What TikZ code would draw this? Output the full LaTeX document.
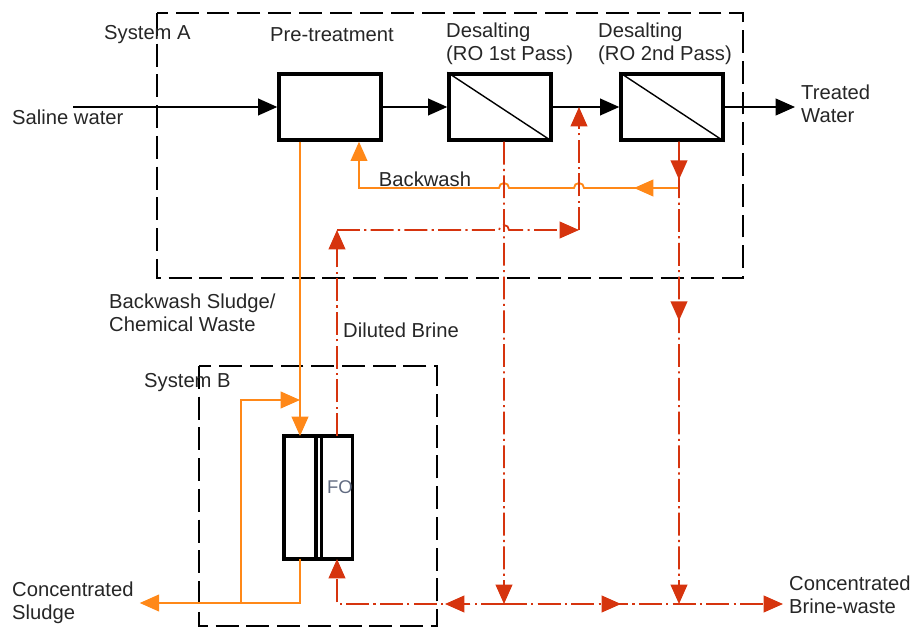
\documentclass[tikz,border=0pt]{standalone}
\usepackage{fontspec}
\setmainfont{Liberation Sans}
\usetikzlibrary{arrows.meta}
\definecolor{washorange}{RGB}{255,136,24}
\definecolor{brinered}{RGB}{214,52,14}
\definecolor{fogray}{RGB}{96,106,128}

\begin{document}
\begin{tikzpicture}[x=0.02cm, y=-0.02cm,
	every node/.style={font=\fontsize{11.5}{13.3}\selectfont, text=black!85},
	unit/.style={draw, line width=1.9pt, inner sep=0pt, minimum width=2.04cm, minimum height=1.32cm},
	fopart/.style={draw, line width=1.8pt, inner sep=0pt, outer sep=0pt, minimum height=2.46cm},
	sysbox/.style={line width=1.7pt, dash pattern=on 13pt off 4.5pt},
	flow/.style={line width=1.1pt, -{Triangle[length=11pt,width=9.5pt]}},
	wash/.style={washorange, line width=1.05pt, -{Triangle[length=11pt,width=9.5pt]}},
	brine/.style={brinered, line width=1pt, dash pattern=on 13pt off 2.5pt on 1.2pt off 2.5pt, -{Triangle[length=11pt,width=9.5pt]}}]
	\useasboundingbox (0,0) rectangle (917,628);
	\draw[sysbox] (157,13) rectangle (743,278);
	\draw[sysbox] (199,366) rectangle (437,626);
	\node[anchor=west] (sysA) at (98,35) {System A};
	\node[anchor=west] (sysB) at (138,383) {System B};

	\node[unit] (pre) at (330,107) {};
	\node[unit] (ro1) at (500,107) {};
	\node[unit] (ro2) at (672,107) {};
	\draw[line width=0.8pt] (ro1.north west) -- (ro1.south east);
	\draw[line width=0.8pt] (ro2.north west) -- (ro2.south east);
	\node (prelbl) at (332,35) {Pre-treatment};
	\node[anchor=west, align=left] (ro1lbl) at (440,44) {Desalting\\(RO 1st Pass)};
	\node[anchor=west, align=left] (ro2lbl) at (592,44) {Desalting\\(RO 2nd Pass)};

	\node[fopart, minimum width=0.64cm] (foleft) at (300,497.5) {};
	\node[fopart, minimum width=0.62cm] (foright) at (337,497.5) {};
	\draw[line width=1.8pt] (foleft.north east) -- (foright.north west);
	\draw[line width=1.8pt] (foleft.south east) -- (foright.south west);
	\node[text=fogray, font=\fontsize{10.5}{12}\selectfont] (folbl) at (340,487) {FO};

	\node[anchor=west] (saline) at (6,117) {Saline water};
	\node[anchor=west, align=left] (treated) at (795,104) {Treated\\Water};
	\node (bwlbl) at (425,179) {Backwash};
	\node[anchor=west, align=left] (sludgelbl) at (103,313) {Backwash Sludge/\\Chemical Waste};
	\node[anchor=west] (dillbl) at (337,330) {Diluted Brine};
	\node[anchor=west, align=left] (sludge) at (6,603) {Concentrated\\Sludge};
	\node[anchor=west, align=left] (waste) at (783,595) {Concentrated\\Brine-waste};

	\coordinate (inlet) at (73,107);
	\coordinate (bw) at (679,188);
	\coordinate (bwturn) at (359,188);
	\coordinate (split) at (241,603);
	\coordinate (mix) at (300,400);
	\coordinate (dtop) at (337,230);
	\coordinate (dright) at (579,230);
	\coordinate (jb1) at (504,604);
	\coordinate (jb2) at (679,604);

	\draw[flow] (inlet) -- (pre);
	\draw[flow] (pre) -- (ro1);
	\draw[flow] (ro1) -- (ro2);
	\draw[flow] (ro2) -- (ro2 -| treated.west);

	\draw[wash] (foleft.north |- pre.south) -- (foleft.north);
	\draw[wash] (bw) -- ++(-45,0);
	\draw[wash] (bw) -- (584,188) arc (0:180:0.1cm) -- (509,188) arc (0:180:0.1cm) -- (bwturn) -- (bwturn |- pre.south);
	\draw[wash] (foleft.south) |- (sludge.east);
	\draw[wash] (split) |- (mix);

	\draw[brine] ([xshift=0.08cm]ro1.south) -- (jb1);
	\draw[brine] ([xshift=0.14cm]ro2.south) -- ++(0,38);
	\draw[brine] ([xshift=0.14cm]ro2.south) -- ++(0,179);
	\draw[brine] ([xshift=0.14cm]ro2.south) -- (jb2);
	\draw[brine] (jb1) -- (445,604);
	\draw[brine] (jb1) -| (foright.south);
	\draw[brine] (jb1) -- (621,604);
	\draw[brine] (jb1) -- (jb1 -| waste.west);
	\draw[brine] (foright.north) -- (dtop);
	\draw[brine] (dtop) -- (499,230) arc (180:0:0.1cm) -- (dright);
	\draw[brine] (dright) -- (dright |- ro1.east);
\end{tikzpicture}
\end{document}
